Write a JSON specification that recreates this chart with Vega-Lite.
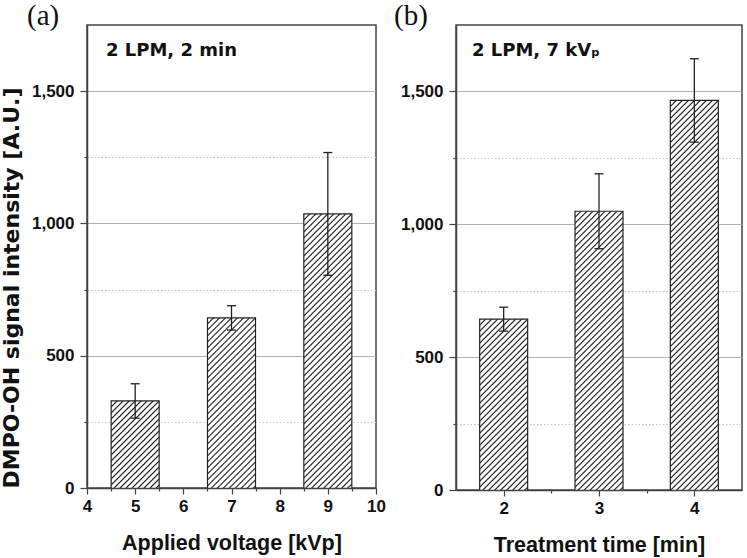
{
"$schema":"https://vega.github.io/schema/vega-lite/v6.json",
"padding":{"left":0,"top":1,"right":0,"bottom":0},
"spacing":6,
"config":{
"view":{"stroke":"#444","strokeWidth":1.5},
"axis":{"labelFont":"Liberation Sans","labelFontWeight":"bold","labelFontSize":17,"labelColor":"#111","titleFont":"Liberation Sans","titleFontWeight":"bold","titleFontSize":21.5,"titleColor":"#111","domainColor":"#444","domainWidth":1.5,"tickColor":"#444","tickWidth":1.2,"labelFlush":false,"labelOverlap":false},
"tick":{"fill":{"gradient":"linear","x1":0,"y1":0,"x2":0.13179,"y2":1.27672,"stops":[
{"offset":0,"color":"#111"},{"offset":0.0025,"color":"#fff"},{"offset":0.0075,"color":"#fff"},
{"offset":0.01,"color":"#111"},{"offset":0.0125,"color":"#fff"},{"offset":0.0175,"color":"#fff"},
{"offset":0.02,"color":"#111"},{"offset":0.0225,"color":"#fff"},{"offset":0.0275,"color":"#fff"},
{"offset":0.03,"color":"#111"},{"offset":0.0325,"color":"#fff"},{"offset":0.0375,"color":"#fff"},
{"offset":0.04,"color":"#111"},{"offset":0.0425,"color":"#fff"},{"offset":0.0475,"color":"#fff"},
{"offset":0.05,"color":"#111"},{"offset":0.0525,"color":"#fff"},{"offset":0.0575,"color":"#fff"},
{"offset":0.06,"color":"#111"},{"offset":0.0625,"color":"#fff"},{"offset":0.0675,"color":"#fff"},
{"offset":0.07,"color":"#111"},{"offset":0.0725,"color":"#fff"},{"offset":0.0775,"color":"#fff"},
{"offset":0.08,"color":"#111"},{"offset":0.0825,"color":"#fff"},{"offset":0.0875,"color":"#fff"},
{"offset":0.09,"color":"#111"},{"offset":0.0925,"color":"#fff"},{"offset":0.0975,"color":"#fff"},
{"offset":0.10,"color":"#111"},{"offset":0.1025,"color":"#fff"},{"offset":0.1075,"color":"#fff"},
{"offset":0.11,"color":"#111"},{"offset":0.1125,"color":"#fff"},{"offset":0.1175,"color":"#fff"},
{"offset":0.12,"color":"#111"},{"offset":0.1225,"color":"#fff"},{"offset":0.1275,"color":"#fff"},
{"offset":0.13,"color":"#111"},{"offset":0.1325,"color":"#fff"},{"offset":0.1375,"color":"#fff"},
{"offset":0.14,"color":"#111"},{"offset":0.1425,"color":"#fff"},{"offset":0.1475,"color":"#fff"},
{"offset":0.15,"color":"#111"},{"offset":0.1525,"color":"#fff"},{"offset":0.1575,"color":"#fff"},
{"offset":0.16,"color":"#111"},{"offset":0.1625,"color":"#fff"},{"offset":0.1675,"color":"#fff"},
{"offset":0.17,"color":"#111"},{"offset":0.1725,"color":"#fff"},{"offset":0.1775,"color":"#fff"},
{"offset":0.18,"color":"#111"},{"offset":0.1825,"color":"#fff"},{"offset":0.1875,"color":"#fff"},
{"offset":0.19,"color":"#111"},{"offset":0.1925,"color":"#fff"},{"offset":0.1975,"color":"#fff"},
{"offset":0.20,"color":"#111"},{"offset":0.2025,"color":"#fff"},{"offset":0.2075,"color":"#fff"},
{"offset":0.21,"color":"#111"},{"offset":0.2125,"color":"#fff"},{"offset":0.2175,"color":"#fff"},
{"offset":0.22,"color":"#111"},{"offset":0.2225,"color":"#fff"},{"offset":0.2275,"color":"#fff"},
{"offset":0.23,"color":"#111"},{"offset":0.2325,"color":"#fff"},{"offset":0.2375,"color":"#fff"},
{"offset":0.24,"color":"#111"},{"offset":0.2425,"color":"#fff"},{"offset":0.2475,"color":"#fff"},
{"offset":0.25,"color":"#111"},{"offset":0.2525,"color":"#fff"},{"offset":0.2575,"color":"#fff"},
{"offset":0.26,"color":"#111"},{"offset":0.2625,"color":"#fff"},{"offset":0.2675,"color":"#fff"},
{"offset":0.27,"color":"#111"},{"offset":0.2725,"color":"#fff"},{"offset":0.2775,"color":"#fff"},
{"offset":0.28,"color":"#111"},{"offset":0.2825,"color":"#fff"},{"offset":0.2875,"color":"#fff"},
{"offset":0.29,"color":"#111"},{"offset":0.2925,"color":"#fff"},{"offset":0.2975,"color":"#fff"},
{"offset":0.30,"color":"#111"},{"offset":0.3025,"color":"#fff"},{"offset":0.3075,"color":"#fff"},
{"offset":0.31,"color":"#111"},{"offset":0.3125,"color":"#fff"},{"offset":0.3175,"color":"#fff"},
{"offset":0.32,"color":"#111"},{"offset":0.3225,"color":"#fff"},{"offset":0.3275,"color":"#fff"},
{"offset":0.33,"color":"#111"},{"offset":0.3325,"color":"#fff"},{"offset":0.3375,"color":"#fff"},
{"offset":0.34,"color":"#111"},{"offset":0.3425,"color":"#fff"},{"offset":0.3475,"color":"#fff"},
{"offset":0.35,"color":"#111"},{"offset":0.3525,"color":"#fff"},{"offset":0.3575,"color":"#fff"},
{"offset":0.36,"color":"#111"},{"offset":0.3625,"color":"#fff"},{"offset":0.3675,"color":"#fff"},
{"offset":0.37,"color":"#111"},{"offset":0.3725,"color":"#fff"},{"offset":0.3775,"color":"#fff"},
{"offset":0.38,"color":"#111"},{"offset":0.3825,"color":"#fff"},{"offset":0.3875,"color":"#fff"},
{"offset":0.39,"color":"#111"},{"offset":0.3925,"color":"#fff"},{"offset":0.3975,"color":"#fff"},
{"offset":0.40,"color":"#111"},{"offset":0.4025,"color":"#fff"},{"offset":0.4075,"color":"#fff"},
{"offset":0.41,"color":"#111"},{"offset":0.4125,"color":"#fff"},{"offset":0.4175,"color":"#fff"},
{"offset":0.42,"color":"#111"},{"offset":0.4225,"color":"#fff"},{"offset":0.4275,"color":"#fff"},
{"offset":0.43,"color":"#111"},{"offset":0.4325,"color":"#fff"},{"offset":0.4375,"color":"#fff"},
{"offset":0.44,"color":"#111"},{"offset":0.4425,"color":"#fff"},{"offset":0.4475,"color":"#fff"},
{"offset":0.45,"color":"#111"},{"offset":0.4525,"color":"#fff"},{"offset":0.4575,"color":"#fff"},
{"offset":0.46,"color":"#111"},{"offset":0.4625,"color":"#fff"},{"offset":0.4675,"color":"#fff"},
{"offset":0.47,"color":"#111"},{"offset":0.4725,"color":"#fff"},{"offset":0.4775,"color":"#fff"},
{"offset":0.48,"color":"#111"},{"offset":0.4825,"color":"#fff"},{"offset":0.4875,"color":"#fff"},
{"offset":0.49,"color":"#111"},{"offset":0.4925,"color":"#fff"},{"offset":0.4975,"color":"#fff"},
{"offset":0.50,"color":"#111"},{"offset":0.5025,"color":"#fff"},{"offset":0.5075,"color":"#fff"},
{"offset":0.51,"color":"#111"},{"offset":0.5125,"color":"#fff"},{"offset":0.5175,"color":"#fff"},
{"offset":0.52,"color":"#111"},{"offset":0.5225,"color":"#fff"},{"offset":0.5275,"color":"#fff"},
{"offset":0.53,"color":"#111"},{"offset":0.5325,"color":"#fff"},{"offset":0.5375,"color":"#fff"},
{"offset":0.54,"color":"#111"},{"offset":0.5425,"color":"#fff"},{"offset":0.5475,"color":"#fff"},
{"offset":0.55,"color":"#111"},{"offset":0.5525,"color":"#fff"},{"offset":0.5575,"color":"#fff"},
{"offset":0.56,"color":"#111"},{"offset":0.5625,"color":"#fff"},{"offset":0.5675,"color":"#fff"},
{"offset":0.57,"color":"#111"},{"offset":0.5725,"color":"#fff"},{"offset":0.5775,"color":"#fff"},
{"offset":0.58,"color":"#111"},{"offset":0.5825,"color":"#fff"},{"offset":0.5875,"color":"#fff"},
{"offset":0.59,"color":"#111"},{"offset":0.5925,"color":"#fff"},{"offset":0.5975,"color":"#fff"},
{"offset":0.60,"color":"#111"},{"offset":0.6025,"color":"#fff"},{"offset":0.6075,"color":"#fff"},
{"offset":0.61,"color":"#111"},{"offset":0.6125,"color":"#fff"},{"offset":0.6175,"color":"#fff"},
{"offset":0.62,"color":"#111"},{"offset":0.6225,"color":"#fff"},{"offset":0.6275,"color":"#fff"},
{"offset":0.63,"color":"#111"},{"offset":0.6325,"color":"#fff"},{"offset":0.6375,"color":"#fff"},
{"offset":0.64,"color":"#111"},{"offset":0.6425,"color":"#fff"},{"offset":0.6475,"color":"#fff"},
{"offset":0.65,"color":"#111"},{"offset":0.6525,"color":"#fff"},{"offset":0.6575,"color":"#fff"},
{"offset":0.66,"color":"#111"},{"offset":0.6625,"color":"#fff"},{"offset":0.6675,"color":"#fff"},
{"offset":0.67,"color":"#111"},{"offset":0.6725,"color":"#fff"},{"offset":0.6775,"color":"#fff"},
{"offset":0.68,"color":"#111"},{"offset":0.6825,"color":"#fff"},{"offset":0.6875,"color":"#fff"},
{"offset":0.69,"color":"#111"},{"offset":0.6925,"color":"#fff"},{"offset":0.6975,"color":"#fff"},
{"offset":0.70,"color":"#111"},{"offset":0.7025,"color":"#fff"},{"offset":0.7075,"color":"#fff"},
{"offset":0.71,"color":"#111"},{"offset":0.7125,"color":"#fff"},{"offset":0.7175,"color":"#fff"},
{"offset":0.72,"color":"#111"},{"offset":0.7225,"color":"#fff"},{"offset":0.7275,"color":"#fff"},
{"offset":0.73,"color":"#111"},{"offset":0.7325,"color":"#fff"},{"offset":0.7375,"color":"#fff"},
{"offset":0.74,"color":"#111"},{"offset":0.7425,"color":"#fff"},{"offset":0.7475,"color":"#fff"}
]}}
},
"hconcat":[
{
"width":289,"height":463,
"data":{"values":[{"kv":5,"v":329,"lo":264,"hi":394},{"kv":7,"v":643,"lo":597,"hi":689},{"kv":9,"v":1036,"lo":804,"hi":1268}]},
"encoding":{"x":{"field":"kv","type":"quantitative","scale":{"domain":[4,10],"nice":false,"zero":false},"axis":{"values":[4,4.5,5,5.5,6,6.5,7,7.5,8,8.5,9,9.5,10],"labelExpr":"datum.value % 1 == 0 ? format(datum.value, 'd') : ''","labelFont":"Liberation Sans","labelFontWeight":"bold","labelFontSize":17,"tickSize":{"condition":{"test":"datum.value % 1 == 0","value":6},"value":3},"labelPadding":4,"title":"Applied voltage [kVp]","titlePadding":18,"zindex":1,"grid":false}}},
"layer":[
{"mark":{"type":"tick","orient":"vertical","thickness":48,"size":465,"yOffset":232.5,"clip":true,"opacity":1,"stroke":"#222","strokeWidth":1.2},
"encoding":{"y":{"field":"v","type":"quantitative","title":"DMPO-OH signal intensity [A.U.]","scale":{"domain":[0,1750],"nice":false},"axis":{"values":[0,250,500,750,1000,1250,1500],"labelExpr":"datum.value % 500 == 0 ? format(datum.value, ',') : ''","labelFont":"Liberation Sans","labelFontWeight":"bold","labelFontSize":17,"tickSize":{"condition":{"test":"datum.value % 500 == 0","value":7},"value":3},"grid":true,"gridColor":{"condition":{"test":"datum.value % 500 == 0","value":"#999"},"value":"#c4c4c4"},"gridDash":{"condition":{"test":"datum.value % 500 == 0","value":[1,0]},"value":[1.5,2]},"labelPadding":6,"titleFont":"DejaVu Sans","titleFontSize":22,"titleAnchor":"start","titlePadding":7.5}}}},
{"mark":{"type":"rule","stroke":"#222","strokeWidth":1.3},
"encoding":{"y":{"field":"lo","type":"quantitative","title":"DMPO-OH signal intensity [A.U.]","scale":{"domain":[0,1750],"nice":false}},"y2":{"field":"hi"}}},
{"mark":{"type":"tick","orient":"horizontal","size":9,"thickness":1.3,"fill":"#222","opacity":1},
"encoding":{"y":{"field":"hi","type":"quantitative","title":"DMPO-OH signal intensity [A.U.]","scale":{"domain":[0,1750],"nice":false}}}},
{"mark":{"type":"tick","orient":"horizontal","size":9,"thickness":1.3,"fill":"#222","opacity":1},
"encoding":{"y":{"field":"lo","type":"quantitative","title":"DMPO-OH signal intensity [A.U.]","scale":{"domain":[0,1750],"nice":false}}}},
{"transform":[{"filter":"datum.kv == 5"}],"mark":{"type":"text","text":"(a)","font":"Liberation Serif","fontSize":29,"align":"left","baseline":"alphabetic","dx":-60,"fill":"#111"},
"encoding":{"x":{"datum":4},"y":{"datum":1750}}},
{"transform":[{"filter":"datum.kv == 5"}],"mark":{"type":"text","text":"2 LPM, 2 min","font":"DejaVu Sans","fontWeight":"bold","fontSize":18,"align":"left","baseline":"alphabetic","dx":19,"dy":31,"fill":"#111"},
"encoding":{"x":{"datum":4},"y":{"datum":1750}}}
]
},
{
"width":286,"height":465,
"data":{"values":[{"t":2,"v":643,"lo":598,"hi":688},{"t":3,"v":1049,"lo":908,"hi":1190},{"t":4,"v":1466,"lo":1309,"hi":1623}]},
"encoding":{"x":{"field":"t","type":"quantitative","scale":{"domain":[1.5,4.5],"nice":false,"zero":false},"axis":{"values":[2,2.5,3,3.5,4],"labelExpr":"datum.value % 1 == 0 ? format(datum.value, 'd') : ''","labelFont":"Liberation Sans","labelFontWeight":"bold","labelFontSize":17,"tickSize":{"condition":{"test":"datum.value % 1 == 0","value":6},"value":3},"labelPadding":4,"title":"Treatment time [min]","titlePadding":18,"zindex":1,"grid":false}}},
"layer":[
{"mark":{"type":"tick","orient":"vertical","thickness":48,"size":465,"yOffset":232.5,"clip":true,"opacity":1,"stroke":"#222","strokeWidth":1.2},
"encoding":{"y":{"field":"v","type":"quantitative","title":null,"scale":{"domain":[0,1750],"nice":false},"axis":{"values":[0,250,500,750,1000,1250,1500],"labelExpr":"datum.value % 500 == 0 ? format(datum.value, ',') : ''","labelFont":"Liberation Sans","labelFontWeight":"bold","labelFontSize":17,"tickSize":{"condition":{"test":"datum.value % 500 == 0","value":7},"value":3},"grid":true,"gridColor":{"condition":{"test":"datum.value % 500 == 0","value":"#999"},"value":"#c4c4c4"},"gridDash":{"condition":{"test":"datum.value % 500 == 0","value":[1,0]},"value":[1.5,2]},"labelPadding":6,"title":null}}}},
{"mark":{"type":"rule","stroke":"#222","strokeWidth":1.3},
"encoding":{"y":{"field":"lo","type":"quantitative","title":null,"scale":{"domain":[0,1750],"nice":false}},"y2":{"field":"hi"}}},
{"mark":{"type":"tick","orient":"horizontal","size":9,"thickness":1.3,"fill":"#222","opacity":1},
"encoding":{"y":{"field":"hi","type":"quantitative","title":null,"scale":{"domain":[0,1750],"nice":false}}}},
{"mark":{"type":"tick","orient":"horizontal","size":9,"thickness":1.3,"fill":"#222","opacity":1},
"encoding":{"y":{"field":"lo","type":"quantitative","title":null,"scale":{"domain":[0,1750],"nice":false}}}},
{"transform":[{"filter":"datum.t == 2"}],"mark":{"type":"text","text":"(b)","font":"Liberation Serif","fontSize":29,"align":"left","baseline":"alphabetic","dx":-62,"fill":"#111"},
"encoding":{"x":{"datum":1.5},"y":{"datum":1750}}},
{"transform":[{"filter":"datum.t == 2"}],"mark":{"type":"text","text":"2 LPM, 7 kVₚ","font":"DejaVu Sans","fontWeight":"bold","fontSize":18,"align":"left","baseline":"alphabetic","dx":16,"dy":31,"fill":"#111"},
"encoding":{"x":{"datum":1.5},"y":{"datum":1750}}}
]
}
]
}
